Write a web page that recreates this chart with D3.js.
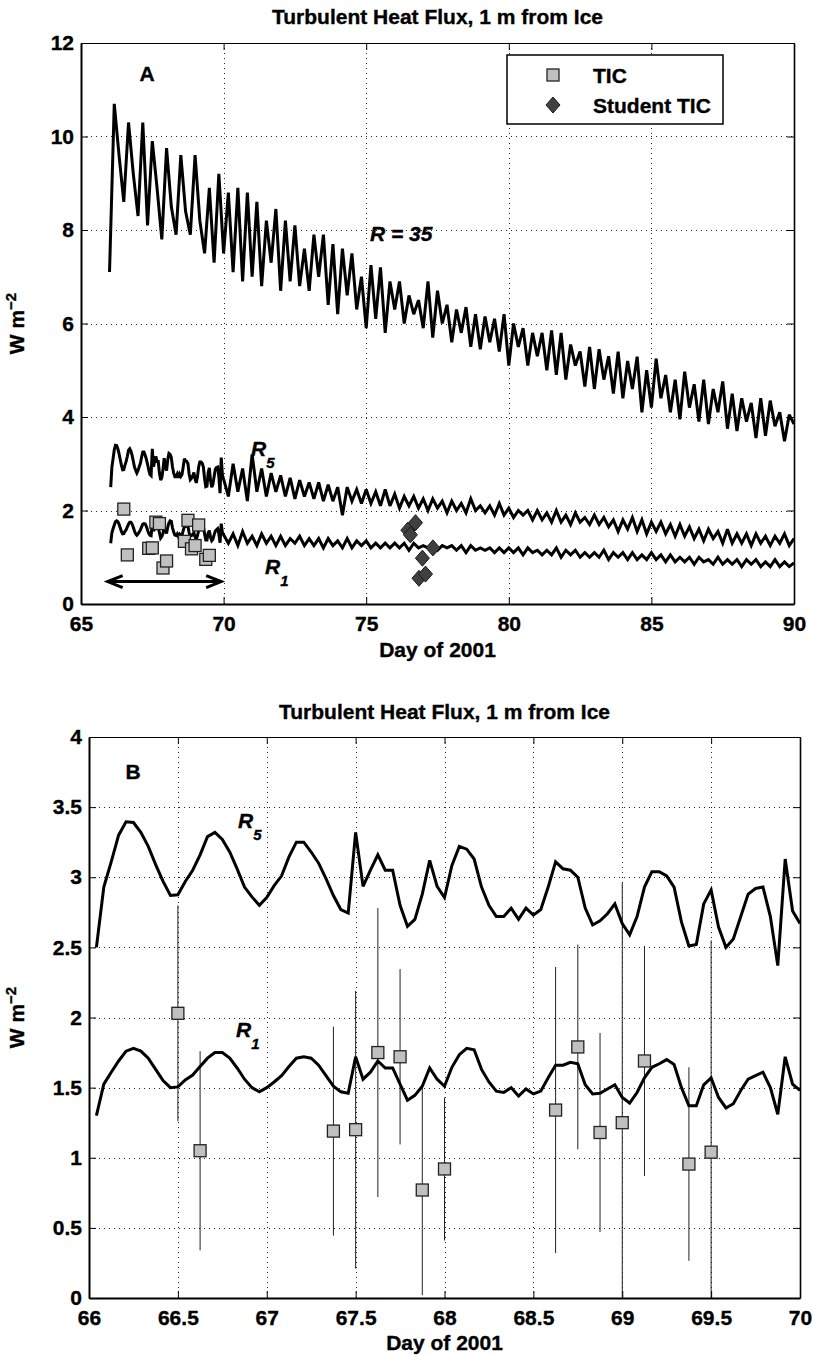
<!DOCTYPE html>
<html><head><meta charset="utf-8">
<script src="https://cdn.jsdelivr.net/npm/d3@7"></script>
<style>
body{margin:0;background:#fff;}
svg text{font-family:"Liberation Sans",Arial,Helvetica,sans-serif;font-weight:bold;fill:#000;stroke:#000;stroke-width:0.35px;}
</style></head><body>
<svg id="c" width="814" height="1355"></svg>
<script>
// ---------------- DATA ----------------
// hourly model output, days 66 + i/24 (i = 1..96)
const hourlyStart = 66 + 1/24, hourlyStep = 1/24;
const r5Hourly = [
 2.50,2.93,3.11,3.30,3.395,3.39,3.32,3.22,3.09,2.97,2.87,2.875,
 2.97,3.05,3.16,3.29,3.32,3.27,3.18,3.06,2.93,2.86,2.80,2.855,
 2.94,3.01,3.145,3.25,3.25,3.18,3.10,2.99,2.87,2.77,2.745,3.32,
 2.935,3.05,3.16,3.05,3.05,2.80,2.65,2.70,2.88,3.12,2.935,2.855,
 3.085,3.22,3.20,3.13,2.93,2.80,2.72,2.72,2.78,2.70,2.78,2.73,
 2.77,2.93,3.11,3.06,3.05,3.00,2.78,2.66,2.69,2.74,2.81,2.67,
 2.59,2.72,2.93,3.04,3.04,3.01,2.93,2.68,2.51,2.52,2.81,2.91,
 2.645,2.50,2.56,2.72,2.88,2.92,2.93,2.72,2.37,3.13,2.76,2.67];
const r1Hourly = [
 1.30,1.525,1.61,1.69,1.76,1.78,1.76,1.71,1.63,1.55,1.50,1.505,
 1.555,1.59,1.65,1.71,1.75,1.75,1.71,1.64,1.56,1.50,1.47,1.50,
 1.54,1.585,1.65,1.71,1.72,1.71,1.66,1.585,1.51,1.47,1.46,1.72,
 1.56,1.61,1.69,1.64,1.64,1.525,1.41,1.445,1.51,1.64,1.56,1.51,
 1.645,1.735,1.78,1.77,1.63,1.54,1.475,1.465,1.50,1.44,1.49,1.455,
 1.475,1.57,1.66,1.66,1.68,1.67,1.52,1.455,1.46,1.49,1.52,1.43,
 1.39,1.465,1.57,1.645,1.67,1.70,1.665,1.50,1.37,1.37,1.52,1.57,
 1.43,1.355,1.385,1.48,1.56,1.585,1.61,1.50,1.31,1.72,1.525,1.48];

// 4-hourly values
const coarseStep = 1/6;
const r35Start = 66;
const r35 = [
 7.1,10.7,9.6,8.6,10.3,9.2,
 8.3,10.3,8.1,9.9,8.9,7.8,
 9.75,8.5,7.9,9.6,8.4,7.9,
 9.6,8.2,7.5,8.9,7.3,9.2,
 7.5,8.8,7.1,8.9,6.9,8.8,
 7.0,8.6,6.8,8.2,7.3,8.45,
 6.7,8.2,6.9,8.1,6.8,7.6,
 6.7,7.9,7.0,7.9,6.4,7.7,
 6.2,7.6,6.6,7.5,6.3,7.0,
 5.9,7.25,6.1,7.2,5.8,6.9,
 6.3,6.9,6.0,6.6,6.2,6.5,
 5.9,6.9,5.7,6.7,6.0,6.4,
 5.6,6.3,5.8,6.35,5.5,6.2,
 5.45,6.15,5.6,6.1,5.4,6.2,
 5.1,6.0,5.5,5.9,5.1,5.8,
 5.3,5.8,5.0,5.85,4.9,5.8,
 4.8,5.55,5.1,5.4,4.65,5.5,
 4.6,5.45,4.8,5.3,4.5,5.4,
 4.4,5.2,4.6,5.29,4.1,5.0,
 4.2,5.25,4.4,4.9,4.1,4.8,
 3.95,4.97,4.2,4.7,3.9,4.8,
 3.85,4.6,4.1,4.76,3.75,4.5,
 3.7,4.4,3.9,4.3,3.55,4.4,
 3.6,4.35,3.8,4.1,3.48,4.05,
 3.85];
const coarseStart = 70 + 1/6;
const r5Coarse = [
 2.3,3.0,2.4,2.9,2.2,3.2,
 2.4,2.9,2.3,2.8,2.4,2.75,
 2.3,2.7,2.25,2.65,2.3,2.6,
 2.25,2.6,2.2,2.55,2.2,2.5,
 1.9,2.5,2.2,2.45,2.15,2.45,
 2.15,2.4,2.1,2.45,2.1,2.35,
 2.05,2.3,2.1,2.3,2.05,2.25,
 2.0,2.25,2.05,2.2,1.95,2.2,
 2.0,2.15,1.95,2.25,2.0,2.1,
 1.95,2.1,1.9,2.15,1.9,2.05,
 1.85,2.0,1.9,2.0,1.8,2.0,
 1.8,1.95,1.75,2.0,1.75,1.9,
 1.7,1.95,1.75,1.85,1.7,1.9,
 1.7,1.85,1.65,1.8,1.55,1.8,
 1.6,1.85,1.55,1.8,1.5,1.75,
 1.55,1.75,1.5,1.7,1.45,1.7,
 1.45,1.65,1.4,1.6,1.35,1.6,
 1.4,1.55,1.3,1.6,1.3,1.5,
 1.3,1.5,1.25,1.5,1.3,1.45,
 1.25,1.45,1.3,1.5,1.25,1.4];
const r1Coarse = [
 1.3,1.5,1.25,1.55,1.3,1.45,
 1.25,1.5,1.3,1.45,1.25,1.45,
 1.25,1.4,1.3,1.45,1.25,1.4,
 1.25,1.4,1.2,1.4,1.25,1.35,
 1.2,1.4,1.2,1.35,1.25,1.35,
 1.2,1.3,1.2,1.3,1.2,1.3,
 1.2,1.3,1.15,1.3,1.2,1.25,
 1.2,1.3,1.15,1.25,1.2,1.25,
 1.15,1.25,1.1,1.25,1.15,1.2,
 1.15,1.2,1.1,1.2,1.1,1.2,
 1.1,1.2,1.05,1.2,1.1,1.15,
 1.05,1.15,1.05,1.2,1.0,1.15,
 1.05,1.15,1.0,1.1,1.0,1.1,
 1.0,1.15,0.95,1.1,1.0,1.1,
 0.95,1.1,0.95,1.05,0.95,1.1,
 0.95,1.05,0.9,1.05,0.9,1.0,
 0.9,1.0,0.85,1.0,0.9,0.95,
 0.85,1.0,0.85,0.95,0.85,0.95,
 0.8,0.95,0.85,0.95,0.8,0.9,
 0.8,0.95,0.8,0.9,0.8,0.88];

// TIC measurements
const ticDays = [66.5,66.625,67.375,67.5,67.625,67.75,67.875,68.0,68.625,68.75,68.875,69.0,69.125,69.375,69.5];
const ticVals = [2.03,1.05,1.19,1.20,1.75,1.72,0.77,0.92,1.34,1.79,1.18,1.25,1.69,0.955,1.04];
const ticErr  = [0.77,0.71,0.745,0.99,1.03,0.625,0.75,0.51,1.02,0.73,0.71,1.71,0.82,0.69,1.51];
// Student TIC
const studentDays = [76.46,76.55,76.73,76.85,76.97,77.08,77.34];
const studentVals = [1.58,1.48,1.74,0.55,0.98,0.64,1.20];

const xTicksA = [65,70,75,80,85,90];
const yTicksA = [0,2,4,6,8,10,12];
const xTicksB = [66,66.5,67,67.5,68,68.5,69,69.5,70];
const yTicksB = [0,0.5,1,1.5,2,2.5,3,3.5,4];
const titleText = "Turbulent Heat Flux, 1 m from Ice";
const xLabelText = "Day of 2001";
const legendLabels = ["TIC","Student TIC"];

// ---------------- DRAW ----------------
const svg = d3.select("#c");
const FS = 21;

function panel(o){
  const x = d3.scaleLinear().domain(o.xd).range([o.l,o.r]);
  const y = d3.scaleLinear().domain(o.yd).range([o.b,o.t]);
  const g = svg.append("g");
  svg.append("clipPath").attr("id",o.id).append("rect")
    .attr("x",o.l).attr("y",o.t).attr("width",o.r-o.l).attr("height",o.b-o.t);
  const grid = g.append("g").attr("stroke","#222").attr("stroke-width",1).attr("stroke-dasharray","1,4");
  grid.selectAll(".gx").data(o.xTicks.filter(d=>d>o.xd[0]&&d<o.xd[1])).enter().append("line")
    .attr("x1",d=>Math.round(x(d))+0.5).attr("x2",d=>Math.round(x(d))+0.5).attr("y1",o.t).attr("y2",o.b);
  grid.selectAll(".gy").data(o.yTicks.filter(d=>d>o.yd[0]&&d<o.yd[1])).enter().append("line")
    .attr("y1",d=>Math.round(y(d))+0.5).attr("y2",d=>Math.round(y(d))+0.5).attr("x1",o.l).attr("x2",o.r);
  const plot = g.append("g").attr("clip-path",`url(#${o.id})`);
  return {x,y,g,plot,o};
}

function axes(p){
  const o = p.o, g = p.g;
  const fmt = d=>String(d);
  const style = sel=>{ sel.attr("font-size",FS).attr("font-family",null); sel.selectAll(".tick line").attr("stroke","#000"); };
  const b = g.append("g").attr("transform",`translate(0,${o.b})`)
    .call(d3.axisBottom(p.x).tickValues(o.xTicks).tickFormat(fmt).tickSizeInner(-7).tickSizeOuter(0).tickPadding(12));
  const t = g.append("g").attr("transform",`translate(0,${o.t})`)
    .call(d3.axisTop(p.x).tickValues(o.xTicks).tickFormat("").tickSizeInner(-7).tickSizeOuter(0));
  const l = g.append("g").attr("transform",`translate(${o.l},0)`)
    .call(d3.axisLeft(p.y).tickValues(o.yTicks).tickFormat(fmt).tickSizeInner(-7).tickSizeOuter(0).tickPadding(7));
  const r = g.append("g").attr("transform",`translate(${o.r},0)`)
    .call(d3.axisRight(p.y).tickValues(o.yTicks).tickFormat("").tickSizeInner(-7).tickSizeOuter(0));
  [b,t,l,r].forEach(style);
  b.select(".domain").attr("stroke-width",2);
  l.select(".domain").attr("stroke-width",2);
  t.select(".domain").attr("stroke-width",1.2);
  r.select(".domain").attr("stroke-width",1.6);
  // titles
  svg.append("text").attr("x",(o.l+o.r)/2).attr("y",o.titleY).attr("text-anchor","middle")
    .attr("font-size",FS).text(titleText);
  svg.append("text").attr("x",(o.l+o.r)/2).attr("y",o.xlabY).attr("text-anchor","middle")
    .attr("font-size",FS).text(xLabelText);
  const yl = svg.append("text").attr("transform",`translate(24,${(o.t+o.b)/2}) rotate(-90)`)
    .attr("text-anchor","middle").attr("font-size",FS);
  yl.append("tspan").text("W m");
  yl.append("tspan").attr("dy",-8).attr("font-size",15).text("\u22122");
}

function rLabel(x,y,sub){
  const t = svg.append("text").attr("x",x).attr("y",y).attr("font-size",FS).attr("font-style","italic");
  t.append("tspan").text("R");
  t.append("tspan").attr("dy",12).attr("font-size",15).text(sub);
}

function squares(p, days, vals){
  p.plot.selectAll(null).data(days).enter().append("rect")
    .attr("x",(d)=>p.x(d)-6).attr("y",(d,i)=>p.y(vals[i])-6)
    .attr("width",12).attr("height",12)
    .attr("fill","#c0c0c0").attr("stroke","#222").attr("stroke-width",1.3);
}
function diamondPath(cx,cy){ return `M${cx},${cy-8}L${cx+7},${cy}L${cx},${cy+8}L${cx-7},${cy}Z`; }

const lineStyle = sel=>sel.attr("fill","none").attr("stroke","#000").attr("stroke-width",3)
  .attr("stroke-linejoin","miter").attr("stroke-miterlimit",3);

const hourlyPts = arr=>arr.map((v,i)=>[hourlyStart+i*hourlyStep,v]);
const coarsePts = (arr,start)=>arr.map((v,i)=>[start+i*coarseStep,v]);

// ---------- Panel A ----------
const A = panel({id:"clipA",l:81,r:794,t:43,b:604,xd:[65,90],yd:[0,12],xTicks:xTicksA,yTicks:yTicksA,titleY:24,xlabY:657});
const lineA = d3.line().x(d=>A.x(d[0])).y(d=>A.y(d[1]));
A.plot.append("path").datum(coarsePts(r35,r35Start)).attr("d",lineA).call(lineStyle);
A.plot.append("path").datum(hourlyPts(r5Hourly).concat(coarsePts(r5Coarse,coarseStart))).attr("d",lineA).call(lineStyle);
A.plot.append("path").datum(hourlyPts(r1Hourly).concat(coarsePts(r1Coarse,coarseStart))).attr("d",lineA).call(lineStyle);
squares(A, ticDays, ticVals);
A.plot.selectAll(null).data(studentDays).enter().append("path")
  .attr("d",(d,i)=>diamondPath(A.x(d),A.y(studentVals[i])))
  .attr("fill","#404040").attr("stroke","#1a1a1a").attr("stroke-width",1);
// double arrow showing TIC period
(function(){
  const x1=A.x(65.9), x2=A.x(69.95), yy=A.y(0.48);
  const ar = A.plot.append("g").attr("fill","none").attr("stroke","#000").attr("stroke-width",3);
  ar.append("line").attr("x1",x1+2).attr("x2",x2-2).attr("y1",yy).attr("y2",yy);
  ar.append("path").attr("d",`M${x1+16},${yy-6}L${x1+1},${yy}L${x1+16},${yy+6}`).attr("stroke-linejoin","miter");
  ar.append("path").attr("d",`M${x2-16},${yy-6}L${x2-1},${yy}L${x2-16},${yy+6}`).attr("stroke-linejoin","miter");
})();
axes(A);
svg.append("text").attr("x",147).attr("y",81).attr("text-anchor","middle").attr("font-size",FS).text("A");
svg.append("text").attr("x",370).attr("y",241).attr("font-size",FS).attr("font-style","italic").text("R = 35");
rLabel(251,456,"5");
rLabel(265,574,"1");
// legend
(function(){
  const lg = svg.append("g");
  lg.append("rect").attr("x",507).attr("y",55).attr("width",216).attr("height",69)
    .attr("fill","#fff").attr("stroke","#000").attr("stroke-width",1.5);
  lg.append("rect").attr("x",547).attr("y",69).attr("width",12).attr("height",12)
    .attr("fill","#c0c0c0").attr("stroke","#222").attr("stroke-width",1.3);
  lg.append("path").attr("d",diamondPath(553,105)).attr("fill","#404040").attr("stroke","#1a1a1a");
  lg.selectAll("text").data(legendLabels).enter().append("text")
    .attr("x",593).attr("y",(d,i)=>83+i*30).attr("font-size",FS).text(d=>d);
})();

// ---------- Panel B ----------
const B = panel({id:"clipB",l:89,r:800,t:737,b:1298,xd:[66,70],yd:[0,4],xTicks:xTicksB,yTicks:yTicksB,titleY:719,xlabY:1350});
const lineB = d3.line().x(d=>B.x(d[0])).y(d=>B.y(d[1]));
B.plot.selectAll(null).data(ticDays).enter().append("line")
  .attr("x1",d=>B.x(d)).attr("x2",d=>B.x(d))
  .attr("y1",(d,i)=>B.y(ticVals[i]-ticErr[i])).attr("y2",(d,i)=>B.y(ticVals[i]+ticErr[i]))
  .attr("stroke","#222").attr("stroke-width",1);
B.plot.append("path").datum(hourlyPts(r5Hourly)).attr("d",lineB).call(lineStyle);
B.plot.append("path").datum(hourlyPts(r1Hourly)).attr("d",lineB).call(lineStyle);
squares(B, ticDays, ticVals);
axes(B);
svg.append("text").attr("x",133).attr("y",779).attr("text-anchor","middle").attr("font-size",FS).text("B");
rLabel(238,828,"5");
rLabel(236,1037,"1");
</script>
</body></html>
